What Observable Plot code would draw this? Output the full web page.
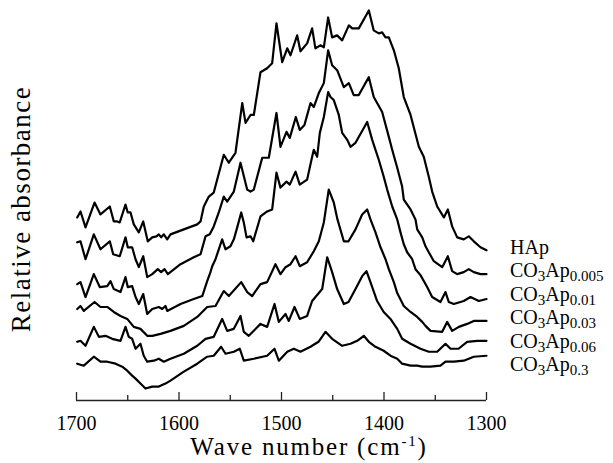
<!DOCTYPE html>
<html><head><meta charset="utf-8">
<script src="https://cdn.jsdelivr.net/npm/d3@7"></script>
<script src="https://cdn.jsdelivr.net/npm/@observablehq/plot@0.6"></script>
<style>
body{margin:0;background:#fff}
#chart{width:613px;height:463px;font-family:"Liberation Serif","Tinos","Times New Roman","DejaVu Serif",serif}
#chart svg, #chart svg text{font-family:"Liberation Serif","Tinos","Times New Roman","DejaVu Serif",serif}
</style>
</head><body><div id="chart"></div>
<script>
// ---- Data (wave number in cm-1, relative absorbance with vertical offsets as drawn) ----
const seriesNames = ["HAp","CO3Ap0.005","CO3Ap0.01","CO3Ap0.03","CO3Ap0.06","CO3Ap0.3"];
const legendSubscripts = ["", "0.005", "0.01", "0.03", "0.06", "0.3"];

const hapWave = [1699.3,1696.1,1691.2,1682.4,1676.6,1667.5,1663.6,1660.3,1657.8,1652.2,1650,1647.3,1644.1,1639.2,1634.9,1630.5,1626.1,1622,1619.7,1617.4,1614.8,1611.5,1608.3,1595.3,1582.2,1579,1575.8,1570.9,1566.1,1556.3,1551.4,1544.9,1538.3,1535.1,1530.2,1527,1520.5,1514,1509.1,1504.9,1499.3,1494.4,1491.2,1484.7,1481.5,1475,1470.1,1466.9,1462,1458.7,1454.5,1450.6,1445.7,1440.8,1434.3,1431,1424.6,1414.8,1410,1405.1,1401.8,1398.5,1395.3,1390.4,1385.6,1380.7,1374.1,1366,1361.2,1356.3,1353,1348.1,1341.6,1337.7,1333.5,1328.6,1322.2,1317.3,1312.4,1305.9,1300];
const hapAbs  = [1.84,1.90,1.74,1.99,1.87,1.95,1.80,1.80,1.79,1.97,1.89,1.89,1.77,1.69,1.80,1.60,1.64,1.65,1.67,1.64,1.67,1.62,1.67,1.72,1.77,1.80,1.95,2.05,2.09,2.47,2.39,2.49,2.99,2.79,2.87,2.87,3.30,3.34,3.39,3.79,3.40,3.54,3.47,3.67,3.51,3.59,3.74,3.54,3.57,3.55,3.85,3.65,3.67,3.62,3.77,3.74,3.74,3.92,3.72,3.69,3.70,3.65,3.65,3.52,3.34,3.05,2.87,2.55,2.45,2.25,2.10,1.95,1.84,1.92,1.75,1.64,1.62,1.65,1.60,1.54,1.51];

const co005Wave = [1699.3,1696.1,1691.2,1683.1,1676.6,1667.5,1664.2,1657.8,1652.2,1650,1645.7,1642.4,1639.2,1634.9,1631,1626.1,1620.7,1617.4,1614.1,1610.9,1598.5,1585.6,1579,1574.1,1570,1566.1,1561.2,1556.3,1553,1546.5,1540,1533.5,1530.2,1527,1518.8,1512.4,1504.9,1501,1495.1,1491.9,1486,1482.2,1477.6,1471.7,1468.5,1463.6,1458.7,1454.5,1450.6,1445.7,1439.2,1434.3,1429.5,1424.6,1414.8,1410,1401.8,1395.3,1392,1387.1,1382.3,1380.7,1374.1,1369.3,1367.6,1362.7,1359.5,1356.3,1351.4,1343.2,1337.7,1333.5,1328.6,1322.2,1317.3,1312.4,1305.9,1300];
const co005Abs  = [1.59,1.60,1.42,1.67,1.52,1.60,1.47,1.45,1.64,1.54,1.54,1.42,1.34,1.45,1.24,1.27,1.32,1.29,1.32,1.27,1.37,1.44,1.47,1.65,1.67,1.75,1.89,2.05,2.00,2.10,2.39,2.12,2.10,2.12,2.44,2.44,2.89,2.55,2.70,2.64,2.85,2.72,2.77,2.99,2.95,3.09,3.19,3.52,3.37,3.32,3.15,3.19,3.07,3.07,3.25,3.05,2.90,2.65,2.52,2.34,2.15,2.02,1.92,1.82,1.72,1.64,1.55,1.49,1.40,1.34,1.45,1.30,1.27,1.29,1.32,1.29,1.27,1.27];

const co01Wave = [1699.3,1696.1,1691.2,1683.1,1677.3,1670,1666.8,1663.6,1657.1,1652.2,1650,1645.7,1642.4,1639.2,1634.9,1631,1626.1,1619.7,1616.4,1613.2,1611.5,1598.5,1585.6,1577.3,1572.5,1569.3,1567.6,1564.4,1557.9,1554.6,1549.8,1546.5,1543.2,1539.3,1536.8,1534.1,1530.2,1527.6,1520.5,1514,1509.1,1504.9,1501,1495.1,1491.9,1486.3,1482.2,1475,1470.1,1468.5,1465.2,1462.6,1458.7,1454.5,1452.2,1449,1444.1,1440.8,1435.9,1432.7,1427.8,1416.4,1411.5,1408.3,1405.1,1400.3,1396.9,1392,1387.1,1383.9,1380.7,1377.4,1372.5,1369.3,1364.4,1357.9,1353,1344.9,1340,1336.8,1331.9,1322.2,1315.6,1307.5,1300];
const co01Abs  = [1.17,1.19,1.04,1.27,1.14,1.15,1.20,1.12,1.09,1.24,1.14,1.15,1.04,0.97,1.07,0.87,0.92,0.94,0.92,0.95,0.90,0.97,1.02,1.05,1.20,1.29,1.35,1.42,1.62,1.52,1.55,1.62,1.74,1.89,1.79,1.64,1.65,1.60,1.85,1.90,1.92,2.29,2.14,2.20,2.17,2.30,2.17,2.22,2.45,2.52,2.45,2.69,2.85,3.10,3.05,3.02,2.87,2.69,2.62,2.55,2.59,2.80,2.62,2.52,2.42,2.25,2.12,1.95,1.82,1.69,1.57,1.49,1.42,1.32,1.26,1.14,1.04,0.99,1.09,0.99,0.97,1.00,1.04,1.00,1.02];

const co03Wave = [1699.3,1696.1,1692.9,1682.4,1676.6,1670,1663.6,1657.1,1650.5,1644.1,1637.6,1631,1626.1,1618,1608.3,1595.3,1582.2,1572.5,1564.4,1556.3,1551.4,1539.3,1533.5,1528.6,1520.5,1514,1505.9,1501,1496.1,1491.2,1486.3,1482.2,1475,1468.5,1463.6,1458.7,1453.9,1449,1445.4,1439.2,1434.6,1427.8,1421.3,1416.4,1413.2,1408.3,1403.4,1398.5,1395.3,1390.4,1387.1,1380.7,1374.1,1367.6,1362.7,1359.5,1354.6,1343.2,1338.4,1333.5,1327,1318.9,1312.4,1300];
const co03Abs  = [0.92,0.95,0.90,0.99,0.94,0.94,0.89,0.85,0.82,0.74,0.72,0.65,0.65,0.67,0.70,0.75,0.84,0.94,0.95,1.10,1.05,1.19,1.09,1.05,1.17,1.19,1.37,1.27,1.34,1.37,1.45,1.35,1.39,1.50,1.60,1.79,2.12,1.99,1.82,1.60,1.60,1.72,1.87,1.92,1.82,1.69,1.54,1.42,1.32,1.19,1.08,0.95,0.89,0.84,0.79,0.75,0.70,0.69,0.79,0.70,0.74,0.77,0.80,0.80];

const co06Wave = [1699.3,1696.1,1691.2,1683.1,1678.2,1671.7,1665.2,1657.1,1652.2,1649,1645.7,1642.4,1637.6,1634.4,1631,1624.6,1619.7,1614.8,1608.3,1595.3,1582.2,1574.1,1566.1,1557.9,1553,1546.5,1540,1536.8,1531.9,1520.5,1514,1506.8,1502.6,1496.1,1492.9,1487.3,1482.2,1475,1470.1,1460.3,1455.4,1450.6,1445.7,1439.2,1434.6,1427.8,1421.3,1417.1,1413.2,1406.7,1400.3,1393.7,1387.1,1382.3,1374.1,1364.4,1356.3,1348.1,1340,1335.1,1327.3,1318.9,1309.1,1300];
const co06Abs  = [0.59,0.60,0.55,0.74,0.64,0.65,0.62,0.60,0.74,0.64,0.62,0.52,0.57,0.45,0.39,0.40,0.42,0.39,0.42,0.47,0.55,0.62,0.64,0.82,0.70,0.72,0.85,0.69,0.65,0.77,0.74,0.97,0.79,0.87,0.80,0.94,0.82,0.85,1.00,1.12,1.44,1.29,1.12,0.97,0.99,1.12,1.25,1.30,1.19,1.00,0.89,0.82,0.72,0.62,0.57,0.52,0.49,0.49,0.57,0.52,0.52,0.59,0.60,0.60];

const co3Wave = [1699.3,1692.9,1683.1,1676.6,1670,1661.9,1655.4,1650.5,1645.7,1642.4,1637.6,1632.7,1626.1,1619.7,1613.2,1608.3,1595.3,1582.2,1572.5,1566.1,1558.9,1554.6,1546.5,1540.7,1536.8,1527,1514,1506.8,1502.6,1494.4,1488,1481.5,1471.7,1463.9,1457.1,1450.6,1440.8,1432.7,1426.1,1419.7,1414.8,1408.3,1400.3,1393.7,1387.1,1382.3,1374.1,1367.6,1362.7,1354.6,1344.9,1340,1331.9,1322.2,1312.4,1300];
const co3Abs  = [0.37,0.35,0.44,0.39,0.39,0.37,0.34,0.30,0.25,0.22,0.17,0.12,0.14,0.14,0.17,0.20,0.29,0.37,0.44,0.45,0.54,0.47,0.49,0.52,0.40,0.42,0.45,0.52,0.40,0.49,0.52,0.49,0.54,0.59,0.69,0.62,0.55,0.57,0.60,0.65,0.59,0.54,0.50,0.45,0.42,0.37,0.35,0.35,0.34,0.34,0.35,0.39,0.39,0.40,0.44,0.45];

const xMajorTicks = [1700, 1600, 1500, 1400, 1300];
const xMinorTicks = [1650, 1550, 1450, 1350];
const xTitle = "Wave number (cm";
const xTitleSup = "-1";
const yTitle = "Relative absorbance";

// ---- Build table ----
const waves = [hapWave, co005Wave, co01Wave, co03Wave, co06Wave, co3Wave];
const absorb = [hapAbs, co005Abs, co01Abs, co03Abs, co06Abs, co3Abs];
const table = [];
seriesNames.forEach((name, k) => {
  waves[k].forEach((w, i) => table.push({series: name, wave: w, abs: absorb[k][i]}));
});

const FONT = '"Liberation Serif","Tinos","Times New Roman","DejaVu Serif",serif';

const plot = Plot.plot({
  width: 613,
  height: 463,
  marginLeft: 76,
  marginRight: 127,
  marginTop: 10,
  marginBottom: 63,
  x: {domain: [1700, 1300]},
  y: {domain: [0, 3.92], axis: null},
  style: {fontSize: "20px", color: "#000", background: "#fff", overflow: "visible"},
  marks: [
    Plot.ruleY([0], {stroke: "#222", strokeWidth: 1.3}),
    // inward (upward) tick marks on the wave-number axis
    Plot.ruleX(xMajorTicks, {x: d => d, y1: 0, y2: 0, insetTop: -8, stroke: "#222", strokeWidth: 1.3}),
    Plot.ruleX(xMinorTicks, {x: d => d, y1: 0, y2: 0, insetTop: -5, stroke: "#222", strokeWidth: 1.3}),
    Plot.axisX(xMajorTicks, {tickSize: 0, tickPadding: 15, fontSize: 20, label: null, tickFormat: d => String(d)}),
    Plot.line(table, {x: "wave", y: "abs", z: "series", stroke: "#000", strokeWidth: 2.2, strokeLinejoin: "round"})
  ]
});

document.getElementById("chart").appendChild(plot);

// ---- Titles and series labels as real SVG text ----
const svg = d3.select(plot);
const xs = plot.scale("x");
const x0 = xs.apply(1700), x1 = xs.apply(1300);

const xt = svg.append("text")
  .attr("x", (x0 + x1) / 2 + 28).attr("y", 455)
  .attr("text-anchor", "middle")
  .attr("font-family", FONT).attr("font-size", 25).style("letter-spacing", "1.8px").attr("fill", "#000");
xt.append("tspan").text(xTitle);
xt.append("tspan").attr("dy", -9).attr("font-size", 15).text(xTitleSup);
xt.append("tspan").attr("dy", 9).text(")");

svg.append("text")
  .attr("transform", `translate(30,209) rotate(-90)`)
  .attr("text-anchor", "middle")
  .attr("font-family", FONT).attr("font-size", 27).style("letter-spacing", "1.5px").attr("fill", "#000")
  .text(yTitle);

const lx = x1 + 24;
seriesNames.forEach((name, i) => {
  const t = svg.append("text").attr("x", lx).attr("y", 254 + i * 23.4)
    .attr("text-anchor", "start")
    .attr("font-family", FONT).attr("font-size", 20).attr("fill", "#000");
  if (legendSubscripts[i] === "") {
    t.text(name);
  } else {
    t.append("tspan").text("CO");
    t.append("tspan").attr("dy", 4).attr("font-size", 15).text("3");
    t.append("tspan").attr("dy", -4).text("Ap");
    t.append("tspan").attr("dy", 4).attr("font-size", 15).text(legendSubscripts[i]);
  }
});
</script>
</body></html>
